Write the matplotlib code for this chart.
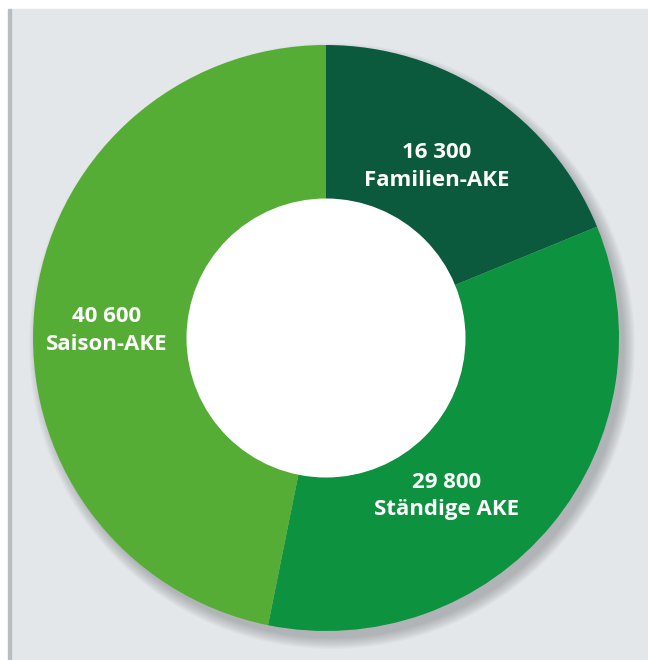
import matplotlib.pyplot as plt
from matplotlib.patches import Circle, Rectangle

# Arbeitskräfte-Einheiten nach Art
categories = ["Familien-AKE", "Ständige AKE", "Saison-AKE"]
values = [16300, 29800, 40600]
colors = ["#0c5a3d", "#0d9240", "#56ad35"]
label_pos = [(437, 494), (447, 164), (107, 330)]

fig = plt.figure(figsize=(6.48, 6.6), dpi=100, facecolor="white")
ax = fig.add_axes([0, 0, 1, 1])

# grey panel with a thin darker edge on the left
ax.add_patch(Rectangle((10, 0), 638, 651, color="#e3e7ea", zorder=0))
ax.add_patch(Rectangle((8, 0), 2.5, 651, color="#b9bdc0", zorder=0))

cx, cy, r = 326, 322, 293

# soft drop shadow towards the lower right
for k in range(12):
    ax.add_patch(Circle((cx + 6, cy - 8), r + 10 - k, color="#5f6368",
                        alpha=0.035, lw=0, zorder=1))

wedges, _ = ax.pie(values, colors=colors, startangle=90, counterclock=False,
                   center=(cx, cy), radius=r, frame=True,
                   wedgeprops=dict(width=r - 139, linewidth=0))
for w in wedges:
    w.set_zorder(2)
ax.add_patch(Circle((cx, cy), 139.5, color="white", lw=0, zorder=3))

ax.set_xlim(0, 648)
ax.set_ylim(0, 660)
ax.set_aspect("equal")
ax.axis("off")

for name, val, (x, y) in zip(categories, values, label_pos):
    num = f"{val:,}".replace(",", " ")
    ax.text(x, y + 14, num, ha="center", va="center", color="white",
            fontsize=16, fontweight="bold", family="Open Sans", zorder=4)
    ax.text(x, y - 14, name, ha="center", va="center", color="white",
            fontsize=16, fontweight="bold", family="Open Sans", zorder=4)

fig.savefig("out.png", dpi=100, facecolor="white")
